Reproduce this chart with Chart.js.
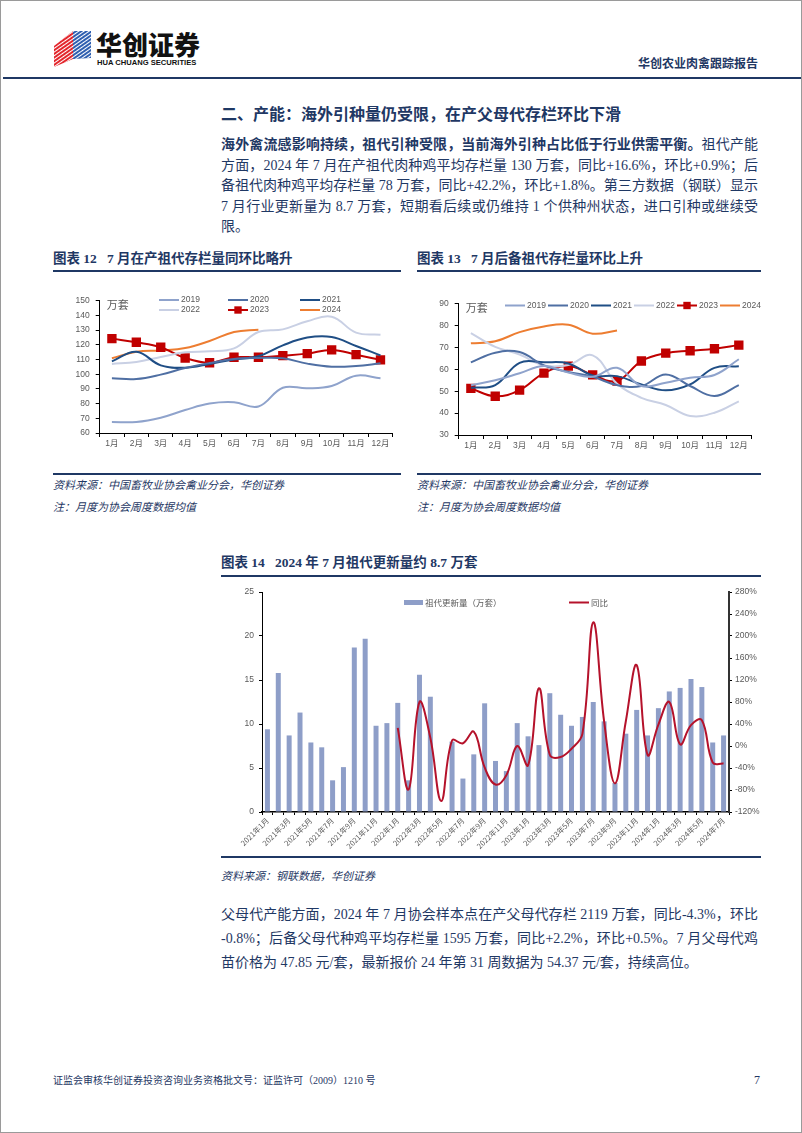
<!DOCTYPE html>
<html><head><meta charset="utf-8">
<script src="https://cdn.jsdelivr.net/npm/chart.js@4.4.1/dist/chart.umd.min.js"></script>
<style>
body{margin:0;background:#fff}
#page{position:relative;width:802px;height:1133px;overflow:hidden;box-sizing:border-box;border:1px solid #9a9a9a;font-family:"Liberation Serif","Noto Sans CJK SC",serif;color:#1F3864}
.a{position:absolute;white-space:nowrap}
.rule{position:absolute;height:2px;background:#1F3864}
.ttl{font-family:"Liberation Serif","Noto Sans CJK SC",serif;font-weight:bold;font-size:13.5px;line-height:18px}
.src{font-style:italic;font-size:11px;line-height:16px;color:#1F3864}
.para div{height:24px;line-height:24px;font-size:14px;text-align:justify;text-align-last:justify;white-space:nowrap}
.para.tight div{height:20.5px;line-height:20.5px}
.para div.last{text-align-last:left}
canvas{position:absolute}
</style></head>
<body>
<div id="page">
  <svg class="a" style="left:50px;top:27px" width="44" height="42" viewBox="0 0 44 42">
    <defs>
      <pattern id="st" width="3" height="3" patternUnits="userSpaceOnUse" patternTransform="rotate(-35)">
        <rect width="3" height="1" fill="#fff"/>
      </pattern>
    </defs>
    <polygon points="3,18 22,3 22,31 3,39" fill="#e3262c"/>
    <polygon points="3,18 22,3 22,31 3,39" fill="url(#st)"/>
    <polygon points="22,3 40,3 40,30 22,31" fill="#2f5fb0"/>
    <polygon points="22,3 40,3 40,30 22,31" fill="url(#st)"/>
  </svg>
  <div class="a" style="left:95px;top:28px;font-family:'Noto Sans CJK SC';font-weight:900;font-size:26px;line-height:30px;color:#111">华创证券</div>
  <div class="a" style="left:96px;top:57px;font-family:'Liberation Sans';font-weight:bold;font-size:7.6px;line-height:9px;color:#111">HUA CHUANG SECURITIES</div>
  <div class="a" style="left:637px;top:54px;font-family:'Noto Sans CJK SC';font-weight:bold;font-size:12px;line-height:16px;color:#1F3864">华创农业肉禽跟踪报告</div>
  <div class="rule" style="left:2px;width:798px;top:76px"></div>

  <div class="a" style="left:220px;top:101px;font-family:'Noto Sans CJK SC';font-weight:bold;font-size:16px;line-height:22px">二、产能：海外引种量仍受限，在产父母代存栏环比下滑</div>

  <div class="a para tight" style="left:220px;top:134px;width:537px">
    <div><b>海外禽流感影响持续，祖代引种受限，当前海外引种占比低于行业供需平衡。</b>祖代产能</div>
    <div>方面，2024 年 7 月在产祖代肉种鸡平均存栏量 130 万套，同比+16.6%，环比+0.9%；后</div>
    <div>备祖代肉种鸡平均存栏量 78 万套，同比+42.2%，环比+1.8%。第三方数据（钢联）显示</div>
    <div>7 月行业更新量为 8.7 万套，短期看后续或仍维持 1 个供种州状态，进口引种或继续受</div>
    <div class="last">限。</div>
  </div>

  <div class="a ttl" style="left:52px;top:249px">图表 12&nbsp;&nbsp;&nbsp;7 月在产祖代存栏量同环比略升</div>
  <div class="a ttl" style="left:416px;top:249px">图表 13&nbsp;&nbsp;&nbsp;7 月后备祖代存栏量环比上升</div>
  <div class="rule" style="left:52px;width:348px;top:269px"></div>
  <div class="rule" style="left:416px;width:344px;top:269px"></div>

  <canvas id="c12" width="348" height="170" style="left:52px;top:285px"></canvas>
  <canvas id="c13" width="350" height="170" style="left:410px;top:285px"></canvas>

  <div class="rule" style="left:52px;width:348px;top:472px"></div>
  <div class="rule" style="left:416px;width:344px;top:472px"></div>
  <div class="a src" style="left:52px;top:476px">资料来源：中国畜牧业协会禽业分会，华创证券</div>
  <div class="a src" style="left:52px;top:498px">注：月度为协会周度数据均值</div>
  <div class="a src" style="left:416px;top:476px">资料来源：中国畜牧业协会禽业分会，华创证券</div>
  <div class="a src" style="left:416px;top:498px">注：月度为协会周度数据均值</div>

  <div class="a ttl" style="left:220px;top:553px">图表 14&nbsp;&nbsp;&nbsp;2024 年 7 月祖代更新量约 8.7 万套</div>
  <div class="rule" style="left:220px;width:540px;top:574px"></div>

  <canvas id="c14" width="540" height="272" style="left:220px;top:580px"></canvas>

  <div class="rule" style="left:220px;width:540px;top:855px"></div>
  <div class="a src" style="left:220px;top:867px">资料来源：钢联数据，华创证券</div>

  <div class="a para" style="left:220px;top:902px;width:537px">
    <div>父母代产能方面，2024 年 7 月协会样本点在产父母代存栏 2119 万套，同比-4.3%，环比</div>
    <div>-0.8%；后备父母代种鸡平均存栏量 1595 万套，同比+2.2%，环比+0.5%。7 月父母代鸡</div>
    <div class="last">苗价格为 47.85 元/套，最新报价 24 年第 31 周数据为 54.37 元/套，持续高位。</div>
  </div>

  <div class="a" style="left:52px;top:1073px;font-size:10px;line-height:14px">证监会审核华创证券投资咨询业务资格批文号：证监许可（2009）1210 号</div>
  <div class="a" style="left:753px;top:1071px;font-size:12px;line-height:16px">7</div>
</div>
<script>
const months=['1月','2月','3月','4月','5月','6月','7月','8月','9月','10月','11月','12月']
const years=['2019','2020','2021','2022','2023','2024']

// 图表12 在产祖代存栏（万套）
const prod2019=[67.5,67.5,70.4,75.6,80,80.9,78,90.8,90.4,92,99,97.2]
const prod2020=[97.2,96.7,99.7,104.2,107.6,110.3,111,110.8,107.2,105.1,105.6,107.4]
const prod2021=[108.7,115.3,106,104.4,107,110,112.2,119.6,124.9,125.3,119.2,112.8]
const prod2022=[107,108.3,111.7,114.9,115.6,117.6,128.7,130.5,136,139.1,128.3,126.9]
const prod2023=[124.2,121.7,118.3,111,107.8,111.5,111.5,112.6,114,116.5,113.3,109.7]
const prod2024=[110.8,115.3,116.2,117.8,122.6,128.7,130.3]
const prodTicks={min:60,max:150,step:10}

// 图表13 后备祖代存栏（万套）
const resv2019=[52.7,55,58.2,61.5,58.5,56.6,60.7,52.4,53.9,56.2,57.4,64.6]
const resv2020=[63.2,67.6,67.9,61.8,58.8,56.6,52.8,52.4,57.7,52.4,47.8,52.8]
const resv2021=[51.6,52.8,63,63.2,62.7,57.2,56.9,53.1,50.4,53.1,60.7,61.4]
const resv2022=[76.6,70.3,66.8,61.8,62,66.4,53.4,47,43.7,38.7,40.2,45.4]
const resv2023=[51.3,47.7,50.5,58.3,61.5,57.5,54.7,63.8,67.4,68.5,69.4,71.1]
const resv2024=[71.9,72.8,77,79.6,80.4,76.3,77.8]
const resvTicks={min:30,max:90,step:10}

// 图表14 祖代更新量（万套）与同比（%）
const renewMonths=['2021年1月','2021年2月','2021年3月','2021年4月','2021年5月','2021年6月','2021年7月','2021年8月','2021年9月','2021年10月','2021年11月','2021年12月',
  '2022年1月','2022年2月','2022年3月','2022年4月','2022年5月','2022年6月','2022年7月','2022年8月','2022年9月','2022年10月','2022年11月','2022年12月',
  '2023年1月','2023年2月','2023年3月','2023年4月','2023年5月','2023年6月','2023年7月','2023年8月','2023年9月','2023年10月','2023年11月','2023年12月',
  '2024年1月','2024年2月','2024年3月','2024年4月','2024年5月','2024年6月','2024年7月']
const renewQty=[9.4,15.8,8.7,11.3,7.9,7.35,3.6,5.1,18.7,19.7,9.8,10.1,
  12.4,3.6,15.6,13.1,null,8.0,3.8,6.55,12.35,5.8,4.65,10.1,
  8.6,7.6,13.5,11.05,9.8,10.8,12.5,10.3,3.3,8.9,11.6,8.7,
  11.8,13.7,14.1,15.1,14.2,7.9,8.7]
const renewYoy=[null,null,null,null,null,null,null,null,null,null,null,null,
  33,-79,80,15,-100,10,5,26,-39,-70,-53,0,
  -35,105,-16,-20,-5,22,225,45,-68,45,147,-16,
  39,80,3,38,47,-30,-32]

const yearColors=['#8FA3CC','#4F6FA3','#1F4E85','#C9D0E4','#C00000','#ED7D31']
const tickFont={family:'"Liberation Sans","Noto Sans CJK SC"',size:8.5}
const tickColor='#595959'

const fixedLegend={id:'fixedLegend',afterDraw(chart,args,o){
  if(!o.items) return
  const ctx=chart.ctx
  ctx.save()
  ctx.font=o.font
  ctx.textBaseline='middle'
  o.items.forEach(it=>{
    const ds=chart.data.datasets[it.ds]
    if(ds.type==='bar'){ctx.fillStyle=ds.backgroundColor;ctx.fillRect(it.x,it.y-2.5,it.w,5)}
    else{
      ctx.strokeStyle=ds.borderColor;ctx.lineWidth=ds.borderWidth
      ctx.beginPath();ctx.moveTo(it.x,it.y);ctx.lineTo(it.x+it.w,it.y);ctx.stroke()
      if(ds.pointRadius>0){ctx.fillStyle=ds.pointBackgroundColor;const s=ds.pointRadius*Math.SQRT1_2;ctx.fillRect(it.x+it.w/2-s,it.y-s,2*s,2*s)}
    }
    ctx.fillStyle=o.color
    ctx.fillText(ds.label,it.x+it.w+2,it.y)
  })
  if(o.unit){ctx.font=o.unitFont;ctx.fillStyle=o.color;ctx.fillText(o.unit.text,chart.chartArea.left+o.unit.dx,chart.chartArea.top+o.unit.dy)}
  ctx.restore()
}}

function yearLine(label,data,i){
  const ds={type:'line',label,data,borderColor:yearColors[i],backgroundColor:yearColors[i],borderWidth:2,
    tension:0.4,pointRadius:0,fill:false}
  if(label==='2023'){ds.pointRadius=5.2;ds.pointStyle='rect';ds.pointBackgroundColor='#C00000';ds.pointBorderColor='#C00000';ds.borderWidth=2}
  return ds
}

function monthChart(id,series,ticks,yWidth,xHeight,pad,legendItems){
  const axisGrid={display:true,drawOnChartArea:false,drawTicks:true,tickLength:4,color:'#000'}
  new Chart(document.getElementById(id),{
    data:{labels:months,datasets:series.map((s,i)=>yearLine(years[i],s,i))},
    options:{responsive:false,animation:false,layout:{padding:pad},
      plugins:{legend:{display:false},tooltip:{enabled:false},
        fixedLegend:{font:'8.5px "Liberation Sans"',unitFont:'11px "Noto Sans CJK SC"',color:tickColor,items:legendItems,unit:{text:'万套',dx:7,dy:4}}},
      scales:{
        x:{type:'category',offset:true,grid:{...axisGrid,offset:true},border:{color:'#000',width:1},
          ticks:{font:tickFont,color:tickColor,maxRotation:0,padding:2},afterFit(s){s.height=xHeight}},
        y:{min:ticks.min,max:ticks.max,grid:axisGrid,border:{color:'#000',width:1},
          ticks:{stepSize:ticks.step,font:tickFont,color:tickColor,padding:6},afterFit(s){s.width=yWidth}}
      }},
    plugins:[fixedLegend]
  })
}

monthChart('c12',[prod2019,prod2020,prod2021,prod2022,prod2023,prod2024],prodTicks,46.7,23,{top:14.7,right:8.3,left:0,bottom:0},[
  {ds:0,x:106,y:14,w:20},{ds:1,x:175,y:14,w:20},{ds:2,x:247,y:14,w:20},
  {ds:3,x:106,y:24,w:20},{ds:4,x:175,y:24,w:20},{ds:5,x:247,y:24,w:20}])

monthChart('c13',[resv2019,resv2020,resv2021,resv2022,resv2023,resv2024],resvTicks,47.7,21,{top:17.7,right:10,left:0,bottom:0},[
  {ds:0,x:94,y:19.5,w:20},{ds:1,x:137,y:19.5,w:20},{ds:2,x:180,y:19.5,w:20},
  {ds:3,x:223,y:19.5,w:20},{ds:4,x:266,y:19.5,w:20},{ds:5,x:309,y:19.5,w:20}])

new Chart(document.getElementById('c14'),{
  data:{labels:renewMonths,datasets:[
    {type:'bar',label:'祖代更新量（万套）',data:renewQty,backgroundColor:'#8E9EC8',barPercentage:0.46,categoryPercentage:1,yAxisID:'y',order:1},
    {type:'line',label:'同比',data:renewYoy,borderColor:'#B5122B',borderWidth:2,tension:0.4,pointRadius:0,fill:false,yAxisID:'y1',order:0}
  ]},
  options:{responsive:false,animation:false,layout:{padding:{top:11,right:0,left:0,bottom:0}},
    plugins:{legend:{display:false},tooltip:{enabled:false},
      fixedLegend:{font:'8.5px "Noto Sans CJK SC"',color:tickColor,items:[{ds:0,x:183,y:21.5,w:19},{ds:1,x:348,y:21.5,w:20}]}},
    scales:{
      x:{offset:true,grid:{display:true,drawOnChartArea:false,tickLength:3,color:'#000',offset:true},border:{color:'#000',width:1.5},
        ticks:{autoSkip:false,minRotation:45,maxRotation:45,font:{family:'"Noto Sans CJK SC"',size:7.5},color:tickColor,padding:1,
          callback(v,i){return i%2===0?this.getLabelForValue(v):''}},
        afterFit(s){s.height=41}},
      y:{position:'left',min:0,max:25,grid:{display:true,drawOnChartArea:false,tickLength:3,color:'#000'},border:{color:'#000',width:1},
        ticks:{stepSize:5,font:tickFont,color:tickColor,padding:5},afterFit(s){s.width=41}},
      y1:{position:'right',min:-120,max:280,grid:{display:true,drawOnChartArea:false,tickLength:3,color:'#000'},border:{color:'#333',width:2},
        ticks:{stepSize:40,font:tickFont,color:tickColor,padding:3,callback:v=>v+'%'},afterFit(s){s.width=32}}
    }},
  plugins:[fixedLegend]
})
</script>
</body></html>
